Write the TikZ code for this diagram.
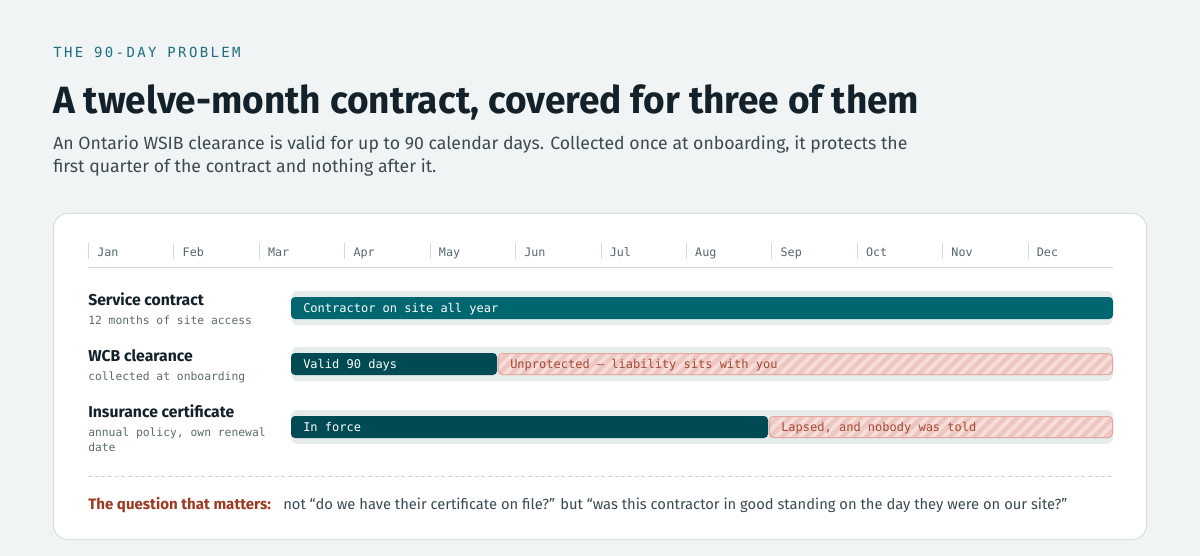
\documentclass[tikz,border=0pt]{standalone}
\usepackage{fontspec}
\setmainfont{Fira Sans}
\newfontfamily\monof{DejaVu Sans Mono}
\newfontfamily\eyef[LetterSpace=17]{DejaVu Sans Mono}
\newfontfamily\titlef[FakeStretch=0.975]{Fira Sans}
\definecolor{bgc}{HTML}{F1F4F5}
\definecolor{cardline}{HTML}{D6DEE0}
\definecolor{eyec}{HTML}{1D6E80}
\definecolor{titlec}{HTML}{13222A}
\definecolor{subc}{HTML}{3B4A52}
\definecolor{monthc}{HTML}{56676D}
\definecolor{tickc}{HTML}{D0D9DB}
\definecolor{axisc}{HTML}{CCD6D8}
\definecolor{labc}{HTML}{13222A}
\definecolor{sublabc}{HTML}{5C6B70}
\definecolor{trackc}{HTML}{E6ECEC}
\definecolor{tealA}{HTML}{00666F}
\definecolor{tealB}{HTML}{004B53}
\definecolor{hbase}{HTML}{F7DEDB}
\definecolor{hstripe}{HTML}{EEC6C0}
\definecolor{hborder}{HTML}{E3A79E}
\definecolor{htext}{HTML}{A44A35}
\definecolor{dashc}{HTML}{C9D5D8}
\definecolor{rustc}{HTML}{9C3A22}
\tikzset{
  eyebrow/.style={inner sep=0pt, anchor=base west, text=eyec, font=\eyef\fontsize{10.5pt}{12pt}\selectfont},
  titletext/.style={inner sep=0pt, anchor=base west, text=titlec, font=\titlef\bfseries\fontsize{28.5pt}{32pt}\selectfont},
  subtext/.style={inner sep=0pt, anchor=base west, text=subc, font=\fontsize{13.25pt}{15pt}\selectfont},
  monthlab/.style={inner sep=0pt, anchor=base west, text=monthc, font=\monof\fontsize{8.8pt}{10pt}\selectfont},
  rowlab/.style={inner sep=0pt, anchor=base west, text=labc, font=\bfseries\fontsize{11.8pt}{14pt}\selectfont},
  rowsub/.style={inner sep=0pt, anchor=base west, text=sublabc, font=\monof\fontsize{8.5pt}{10pt}\selectfont},
  bartext/.style={inner sep=0pt, anchor=base west, font=\monof\fontsize{9pt}{10pt}\selectfont},
  tracks/.style={fill=trackc, rounded corners=5pt},
  barA/.style={fill=tealA, rounded corners=3pt},
  barB/.style={fill=tealB, rounded corners=3pt},
  stripe/.style={draw=hstripe, line width=3.2pt},
  hatchedge/.style={draw=hborder, line width=0.75pt, rounded corners=3pt},
}
\newcommand\hatchseg[3]{%
  \begin{scope}
    \clip[rounded corners=3pt] (#1,#3) rectangle (#2,#3+22);
    \fill[hbase] (#1,#3) rectangle (#2,#3+22);
    \foreach \k in {-2,...,60} {
      \pgfmathsetmacro\xs{#1+\k*12}
      \ifdim\xs pt<#2pt \draw[stripe] (\xs,#3+22) -- ++(22,-22);\fi
    }
  \end{scope}
  \draw[hatchedge] (#1+0.5,#3+0.5) rectangle (#2-0.5,#3+21.5);
}
\begin{document}
\begin{tikzpicture}[x=0.75pt,y=-0.75pt]
\useasboundingbox (0,0) rectangle (1200,556);
\fill[bgc] (0,0) rectangle (1200,556);

% header
\node[eyebrow] (eyebrow) at (53,58) {THE 90-DAY PROBLEM};
\node[titletext] (title) at (53,114) {A twelve-month contract, covered for three of them};
\node[subtext] (sub1) at (53,150) {An Ontario WSIB clearance is valid for up to 90 calendar days. Collected once at onboarding, it protects the};
\node[subtext] (sub2) at (53,173) {first quarter of the contract and nothing after it.};

% card
\draw[draw=cardline, fill=white, line width=0.75pt, rounded corners=10.5pt] (53.5,213.5) rectangle (1146.5,539.5);

% month axis
\foreach \i/\m in {0/Jan,1/Feb,2/Mar,3/Apr,4/May,5/Jun,6/Jul,7/Aug,8/Sep,9/Oct,10/Nov,11/Dec} {
  \pgfmathsetmacro\xm{88.5+\i*85.42}
  \draw[tickc, line width=0.75pt] (\xm,243) -- (\xm,259);
  \node[monthlab] (m\i) at (\xm+8.5,256.5) {\m};
}
\draw[axisc, line width=0.75pt] (88,267.5) -- (1113,267.5);

% row 1
\node[rowlab] (r1) at (88,305) {Service contract};
\node[rowsub] (r1s) at (88,324) {12 months of site access};
\fill[tracks] (291,291) rectangle (1113,325);
\fill[barA] (291,297) rectangle (1113,319);
\node[bartext, text=white] (b1) at (303,312) {Contractor on site all year};

% row 2
\node[rowlab] (r2) at (88,361) {WCB clearance};
\node[rowsub] (r2s) at (88,380) {collected at onboarding};
\fill[tracks] (291,347) rectangle (1113,381);
\fill[barB] (291,353) rectangle (497,375);
\hatchseg{498}{1113}{353}
\node[bartext, text=white] (b2) at (303,368) {Valid 90 days};
\node[bartext, text=htext] (b2h) at (510,368) {Unprotected — liability sits with you};

% row 3
\node[rowlab] (r3) at (88,417) {Insurance certificate};
\node[rowsub] (r3s) at (88,436) {annual policy, own renewal};
\node[rowsub] (r3s2) at (88,451) {date};
\fill[tracks] (291,410) rectangle (1113,444);
\fill[barB] (291,416) rectangle (768,438);
\hatchseg{769}{1113}{416}
\node[bartext, text=white] (b3) at (303,431) {In force};
\node[bartext, text=htext] (b3h) at (781,431) {Lapsed, and nobody was told};

% footer
\draw[dashc, line width=0.75pt, dash pattern=on 3pt off 2pt] (88,476.5) -- (1113,476.5);
\node[inner sep=0pt, anchor=base west, text=rustc, font=\bfseries\fontsize{11.3pt}{13pt}\selectfont] (q) at (88,509) {The question that matters:};
\node[inner sep=0pt, anchor=base west, text=subc, font=\fontsize{11.05pt}{13pt}\selectfont] (qa) at (283,509) {not “do we have their certificate on file?” but “was this contractor in good standing on the day they were on our site?”};
\end{tikzpicture}
\end{document}
